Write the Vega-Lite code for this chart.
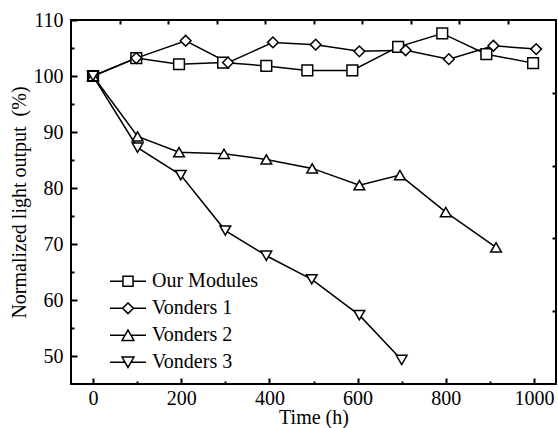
{
  "$schema": "https://vega.github.io/schema/vega-lite/v6.json",
  "width": 485,
  "height": 364,
  "autosize": {"type": "none"},
  "padding": {"left": 71, "top": 20, "right": 2, "bottom": 44},
  "background": "white",
  "config": {
    "view": {"stroke": "black", "strokeWidth": 2},
    "axis": {
      "domain": false,
      "grid": false,
      "labelFont": "Liberation Serif",
      "labelFontSize": 20,
      "labelColor": "black",
      "titleFont": "Liberation Serif",
      "titleFontSize": 20,
      "titleFontWeight": "normal",
      "titleColor": "black",
      "tickColor": "black"
    }
  },
  "datasets": {
    "main": [
      {"series": "Our Modules", "time": 0, "value": 100},
      {"series": "Our Modules", "time": 98, "value": 103.2},
      {"series": "Our Modules", "time": 195, "value": 102.1},
      {"series": "Our Modules", "time": 295, "value": 102.4},
      {"series": "Our Modules", "time": 393, "value": 101.8},
      {"series": "Our Modules", "time": 486, "value": 101.0},
      {"series": "Our Modules", "time": 588, "value": 101.0},
      {"series": "Our Modules", "time": 692, "value": 105.2},
      {"series": "Our Modules", "time": 792, "value": 107.6},
      {"series": "Our Modules", "time": 892, "value": 103.9},
      {"series": "Our Modules", "time": 998, "value": 102.3},
      {"series": "Vonders 1", "time": 0, "value": 100},
      {"series": "Vonders 1", "time": 98, "value": 103.2},
      {"series": "Vonders 1", "time": 210, "value": 106.3},
      {"series": "Vonders 1", "time": 306, "value": 102.4},
      {"series": "Vonders 1", "time": 408, "value": 106.0},
      {"series": "Vonders 1", "time": 505, "value": 105.6},
      {"series": "Vonders 1", "time": 604, "value": 104.4},
      {"series": "Vonders 1", "time": 709, "value": 104.6},
      {"series": "Vonders 1", "time": 807, "value": 103.0},
      {"series": "Vonders 1", "time": 908, "value": 105.4},
      {"series": "Vonders 1", "time": 1005, "value": 104.8},
      {"series": "Vonders 2", "time": 0, "value": 100},
      {"series": "Vonders 2", "time": 101, "value": 89.2},
      {"series": "Vonders 2", "time": 195, "value": 86.4},
      {"series": "Vonders 2", "time": 297, "value": 86.1},
      {"series": "Vonders 2", "time": 393, "value": 85.1},
      {"series": "Vonders 2", "time": 497, "value": 83.5},
      {"series": "Vonders 2", "time": 604, "value": 80.5},
      {"series": "Vonders 2", "time": 696, "value": 82.3},
      {"series": "Vonders 2", "time": 800, "value": 75.7},
      {"series": "Vonders 2", "time": 914, "value": 69.4},
      {"series": "Vonders 3", "time": 0, "value": 100},
      {"series": "Vonders 3", "time": 101, "value": 87.2},
      {"series": "Vonders 3", "time": 199, "value": 82.3},
      {"series": "Vonders 3", "time": 300, "value": 72.4},
      {"series": "Vonders 3", "time": 393, "value": 67.9},
      {"series": "Vonders 3", "time": 496, "value": 63.7},
      {"series": "Vonders 3", "time": 604, "value": 57.3},
      {"series": "Vonders 3", "time": 700, "value": 49.3}
    ],
    "frame": [
      {"t": 0, "u": 0},
      {"t": 10, "u": 5}
    ]
  },
  "layer": [
    {
      "data": {"name": "main"},
      "encoding": {
        "x": {
          "field": "time",
          "type": "quantitative",
          "scale": {"domain": [-50, 1050], "nice": false, "zero": false},
          "axis": {
            "orient": "bottom",
            "title": "Time (h)",
            "format": "d",
            "values": [0, 100, 200, 300, 400, 500, 600, 700, 800, 900, 1000],
            "labelExpr": "datum.value % 200 === 0 ? datum.label : ''",
            "tickSize": {"condition": {"test": "datum.value % 200 === 0", "value": -6}, "value": -3},
            "tickWidth": 2,
            "labelPadding": 10,
            "titlePadding": -1
          }
        },
        "y": {
          "field": "value",
          "type": "quantitative",
          "scale": {"domain": [45, 110], "nice": false, "zero": false},
          "axis": {
            "orient": "left",
            "title": "Normalized light output\u00a0 (%)",
            "values": [50, 55, 60, 65, 70, 75, 80, 85, 90, 95, 100, 105, 110],
            "labelExpr": "datum.value % 10 === 0 ? datum.label : ''",
            "tickSize": {"condition": {"test": "datum.value % 10 === 0", "value": -6}, "value": -3},
            "tickWidth": 2,
            "labelPadding": 14,
            "titlePadding": 4
          }
        }
      },
      "layer": [
        {
          "mark": {"type": "line", "color": "black", "strokeWidth": 1.5},
          "encoding": {"detail": {"field": "series", "type": "nominal"}}
        },
        {
          "mark": {"type": "point", "filled": true, "fill": "white", "stroke": "black", "strokeWidth": 1.5, "size": 115, "opacity": 1},
          "encoding": {
            "shape": {
              "field": "series",
              "type": "nominal",
              "scale": {
                "domain": ["Our Modules", "Vonders 1", "Vonders 2", "Vonders 3"],
                "range": ["square", "diamond", "triangle-up", "triangle-down"]
              },
              "legend": null
            }
          }
        },
        {
          "transform": [{"filter": "datum.time < -1000"}],
          "mark": {"type": "point", "filled": false, "color": "black", "strokeWidth": 1.5, "size": 1296, "opacity": 1},
          "encoding": {
            "shape": {
              "field": "series",
              "type": "nominal",
              "scale": {
                "domain": ["Our Modules", "Vonders 1", "Vonders 2", "Vonders 3"],
                "range": [
                  "M-1,0H-0.28M0.28,0H1M-0.28,-0.28H0.28V0.28H-0.28Z",
                  "M-1,0H-0.3M0.3,0H1M-0.3,0L0,-0.3L0.3,0L0,0.3Z",
                  "M-1,0H-0.165M0.165,0H1M0,-0.285L0.33,0.285L-0.33,0.285Z",
                  "M-1,0H-0.165M0.165,0H1M0,0.285L0.33,-0.285L-0.33,-0.285Z"
                ]
              },
              "legend": {
                "title": null,
                "orient": "none",
                "legendX": 38,
                "legendY": 248,
                "padding": 0,
                "labelFont": "Liberation Serif",
                "labelFontSize": 20,
                "labelColor": "black",
                "labelOffset": 5,
                "clipHeight": 26.5,
                "rowPadding": 0,
                "symbolSize": 1296,
                "symbolStrokeWidth": 1.5,
                "symbolOpacity": 1,
                "encode": {
                  "symbols": {
                    "update": {
                      "stroke": {"value": "black"},
                      "fill": {"value": "white"},
                      "opacity": {"value": 1},
                      "strokeWidth": {"value": 1.5}
                    }
                  }
                }
              }
            }
          }
        }
      ],
      "resolve": {"scale": {"shape": "independent"}}
    },
    {
      "data": {"name": "frame"},
      "mark": {"type": "point", "opacity": 0},
      "encoding": {
        "x": {
          "field": "t",
          "type": "quantitative",
          "scale": {"domain": [0, 10], "nice": false, "zero": false},
          "axis": {"orient": "top", "title": null, "labels": false, "values": [1, 2, 3, 4, 5, 6, 7, 8, 9], "tickSize": -4, "tickWidth": 2}
        },
        "y": {
          "field": "u",
          "type": "quantitative",
          "scale": {"domain": [0, 5], "nice": false, "zero": false},
          "axis": {"orient": "right", "title": null, "labels": false, "values": [1, 2, 3, 4], "tickSize": -4, "tickWidth": 2}
        }
      }
    }
  ],
  "resolve": {"scale": {"x": "independent", "y": "independent"}}
}
